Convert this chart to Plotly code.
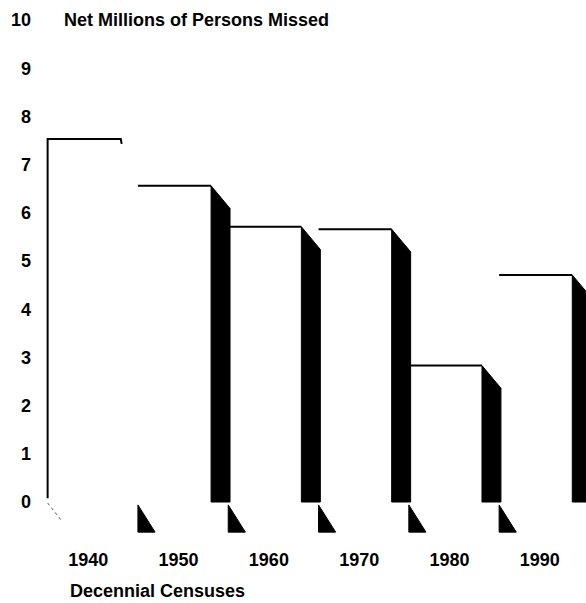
import plotly.graph_objects as go

# ---- data ----
years = ["1940", "1950", "1960", "1970", "1980", "1990"]
missed = [7.53, 6.56, 5.71, 5.66, 2.83, 4.71]          # net millions of persons missed
y_ticks = list(range(0, 11))
y_title = "Net Millions of Persons Missed"
x_title = "Decennial Censuses"

# ---- styling / geometry (relative to each category slot) ----
FONT = "Liberation Sans, Arial, Helvetica, sans-serif"
FRONT_L, FRONT_R, SIDE_R = -0.45, 0.36, 0.57   # front face and dark side face extents
BEVEL = 0.47                                   # drop of the side face's top edge
TRI_W, TRI_TOP, TRI_BOT = 0.19, -0.06, -0.625  # small dark wedges below the baseline

idx = list(range(len(years)))
fig = go.Figure()

# white front faces of the bars
fig.add_trace(go.Bar(
    x=[i + (FRONT_L + FRONT_R) / 2 for i in idx], y=missed,
    width=FRONT_R - FRONT_L, marker=dict(color="white", line=dict(width=0)),
    showlegend=False, hoverinfo="skip"))

# dark side faces (the 1940 bar's side face is missing in the original)
for i, v in zip(idx[1:], missed[1:]):
    fig.add_trace(go.Scatter(
        x=[i + FRONT_R, i + SIDE_R, i + SIDE_R, i + FRONT_R, i + FRONT_R],
        y=[v, v - BEVEL, 0, 0, v], mode="lines", fill="toself",
        fillcolor="black", line=dict(color="black", width=1),
        showlegend=False, hoverinfo="skip"))
    # wedge under the baseline
    fig.add_trace(go.Scatter(
        x=[i + FRONT_L, i + FRONT_L, i + FRONT_L + TRI_W, i + FRONT_L],
        y=[TRI_TOP, TRI_BOT, TRI_BOT, TRI_TOP], mode="lines", fill="toself",
        fillcolor="black", line=dict(color="black", width=1),
        showlegend=False, hoverinfo="skip"))

# top outlines
for i, v in zip(idx, missed):
    if i == 0:
        xs = [i + FRONT_L, i + FRONT_L, i + FRONT_R, i + FRONT_R + 0.01]
        ys = [0.08, v, v, v - 0.1]
    else:
        xs = [i + FRONT_L, i + FRONT_R]
        ys = [v, v]
    fig.add_trace(go.Scatter(x=xs, y=ys, mode="lines",
                             line=dict(color="black", width=2),
                             showlegend=False, hoverinfo="skip"))

# faint dotted scan artifact under the first bar
fig.add_trace(go.Scatter(x=[FRONT_L, FRONT_L + 0.16], y=[-0.02, -0.4], mode="lines",
                         line=dict(color="#555", width=1, dash="dot"),
                         showlegend=False, hoverinfo="skip"))

W, H = 586, 603
L, T, B = 32, 20, 63
PW, PH = W - L, H - T - B

fig.add_annotation(text=y_title, xref="paper", yref="paper", x=(62 - L) / PW, y=1.0,
                   xanchor="left", yanchor="middle", showarrow=False,
                   font=dict(family=FONT, size=18, color="black", weight="bold"))
fig.add_annotation(text=x_title, xref="paper", yref="paper", x=(68 - L) / PW,
                   y=-51 / PH, xanchor="left", yanchor="middle", showarrow=False,
                   font=dict(family=FONT, size=18, color="black", weight="bold"))

fig.update_layout(
    width=W, height=H,
    margin=dict(l=L, r=0, t=T, b=B),
    paper_bgcolor="white", plot_bgcolor="white",
    font=dict(family=FONT, size=18, color="black", weight="bold"),
    xaxis=dict(range=[-0.623, 5.512], tickvals=idx, ticktext=years, automargin=False,
               ticklabelstandoff=7,
               showgrid=False, zeroline=False, showline=False, ticks=""),
    yaxis=dict(range=[-0.788, 10], tickvals=y_ticks, ticktext=[str(t) for t in y_ticks],
               automargin=False,
               showgrid=False, zeroline=False, showline=False, ticks=""),
)

fig.write_html("out.html", config={"displayModeBar": False},
               post_script="document.body.style.margin='0';document.body.style.overflow='hidden';")
